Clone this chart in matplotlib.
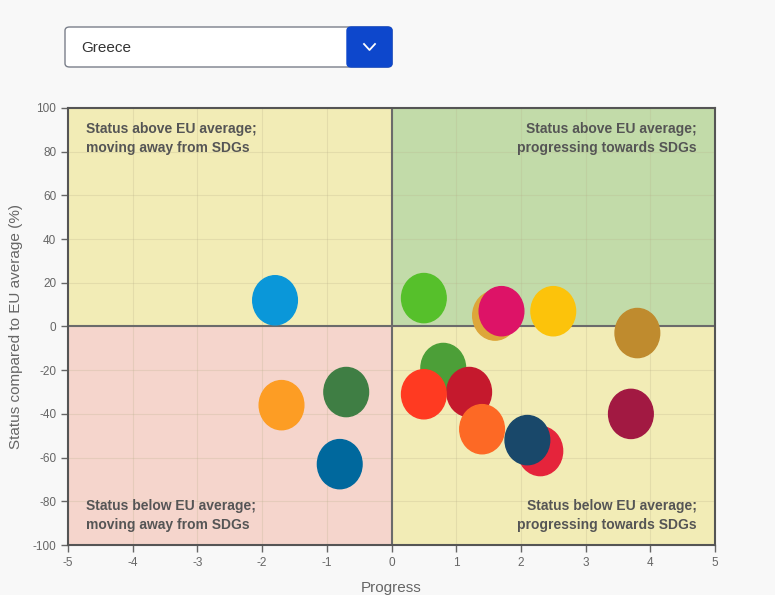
import matplotlib.pyplot as plt
from matplotlib.patches import Ellipse, Rectangle, FancyBboxPatch

plt.rcParams['axes.unicode_minus'] = False

# SDG goals (1..17) shown for Greece, SDG 6 has no data
goals = [1, 2, 3, 4, 5, 7, 8, 9, 10, 11, 12, 13, 14, 15, 16, 17]
progress = [2.3, 1.6, 0.8, 1.2, 0.5, 2.5, 3.7, 1.4, 1.7, -1.7, 3.8, -0.7, -1.8, 0.5, -0.8, 2.1]
status = [-57, 5, -19, -30, -31, 7, -40, -47, 7, -36, -3, -30, 12, 13, -63, -52]
colors = ['#E5243B', '#DDA63A', '#4C9F38', '#C5192D', '#FF3A21', '#FCC30B', '#A21942',
          '#FD6925', '#DD1367', '#FD9D24', '#BF8B2E', '#3F7E44', '#0A97D9', '#56C02B',
          '#00689D', '#19486A']

xticks = [-5, -4, -3, -2, -1, 0, 1, 2, 3, 4, 5]
yticks = [-100, -80, -60, -40, -20, 0, 20, 40, 60, 80, 100]

fig = plt.figure(figsize=(7.75, 5.95), dpi=100)
fig.patch.set_facecolor('#f8f8f8')
ax = fig.add_axes([68 / 775, 1 - 545 / 595, (715 - 68) / 775, (545 - 108) / 595])
ax.set_xlim(-5, 5)
ax.set_ylim(-100, 100)

# quadrants
ax.add_patch(Rectangle((-5, 0), 5, 100, color='#f2ecb6', zorder=0))
ax.add_patch(Rectangle((0, 0), 5, 100, color='#c2dba9', zorder=0))
ax.add_patch(Rectangle((-5, -100), 5, 100, color='#f5d5cc', zorder=0))
ax.add_patch(Rectangle((0, -100), 5, 100, color='#f2ecb6', zorder=0))

for x in xticks:
    ax.axvline(x, color='#b8b08a', alpha=0.25, lw=0.8, zorder=1)
for y in yticks:
    ax.axhline(y, color='#b8b08a', alpha=0.25, lw=0.8, zorder=1)
ax.axvline(0, color='#6b6b6b', lw=1.5, zorder=2)
ax.axhline(0, color='#6b6b6b', lw=1.5, zorder=2)

# circles (drawn in SDG order so overlaps match)
for i in range(len(goals)):
    ax.add_patch(Ellipse((progress[i], status[i]), 0.69, 22.5, color=colors[i], zorder=3 + i))

qfont = dict(fontsize=10, fontweight='bold', color='#555555', linespacing=1.45,
             family=['Liberation Sans', 'DejaVu Sans'], zorder=30)
ax.text(-4.72, 93.5, 'Status above EU average;\nmoving away from SDGs', ha='left', va='top', **qfont)
ax.text(4.72, 93.5, 'Status above EU average;\nprogressing towards SDGs', ha='right', va='top', **qfont)
ax.text(-4.72, -79, 'Status below EU average;\nmoving away from SDGs', ha='left', va='top', **qfont)
ax.text(4.72, -79, 'Status below EU average;\nprogressing towards SDGs', ha='right', va='top', **qfont)

for s in ax.spines.values():
    s.set_color('#555555')
    s.set_linewidth(1.5)
ax.set_xticks(xticks)
ax.set_yticks(yticks)
ax.tick_params(colors='#666666', labelsize=8.5, length=5, width=1, labelcolor='#666666')
for lab in ax.get_xticklabels() + ax.get_yticklabels():
    lab.set_family(['Liberation Sans', 'DejaVu Sans'])
ax.set_xlabel('Progress', fontsize=11, color='#666666', family=['Liberation Sans', 'DejaVu Sans'], labelpad=9)
ax.set_ylabel('Status compared to EU average (%)', fontsize=11, color='#666666',
              family=['Liberation Sans', 'DejaVu Sans'], labelpad=7)

# country dropdown
fig.patches.append(FancyBboxPatch((65 / 775, 1 - 67 / 595), 327 / 775, 40 / 595,
                                  boxstyle='round,pad=0,rounding_size=0.006', transform=fig.transFigure,
                                  facecolor='white', edgecolor='#7a7f8a', lw=1))
fig.patches.append(FancyBboxPatch((347 / 775, 1 - 67 / 595), 45 / 775, 40 / 595,
                                  boxstyle='round,pad=0,rounding_size=0.006', transform=fig.transFigure,
                                  facecolor='#0d47cc', edgecolor='#0d47cc', lw=1))
fig.text(81 / 775, 1 - 47.5 / 595, 'Greece', fontsize=11, color='#333333', va='center',
         family=['Liberation Sans', 'DejaVu Sans'])
fig.lines.append(plt.Line2D([364 / 775, 369.5 / 775, 375 / 775], [1 - 44 / 595, 1 - 50 / 595, 1 - 44 / 595],
                            transform=fig.transFigure, color='white', lw=1.3))

fig.savefig('out.png', dpi=100, facecolor=fig.get_facecolor())
